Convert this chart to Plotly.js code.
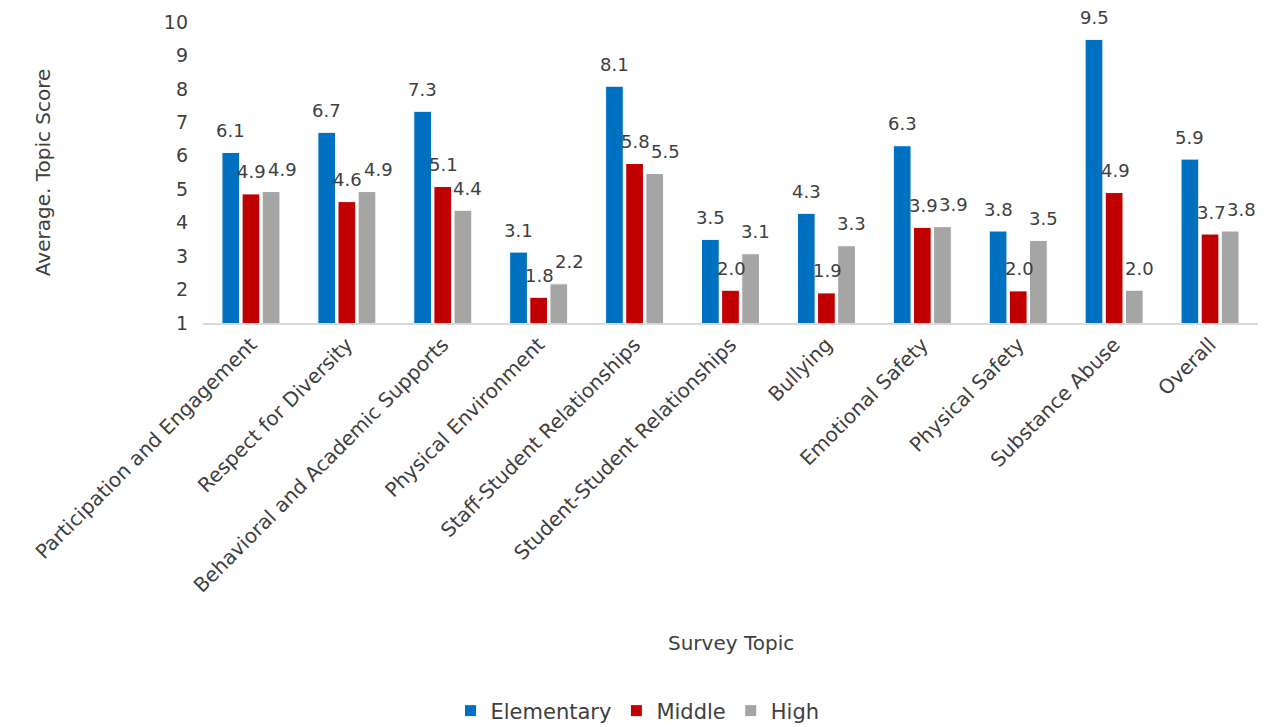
<!DOCTYPE html>
<html><head><meta charset="utf-8">
<script src="https://cdn.plot.ly/plotly-3.0.1.min.js"></script>
<style>html,body{margin:0;padding:0;background:#fff}#chart{width:1275px;height:727px}</style>
</head><body><div id="chart"></div>
<script>
const categories = ["Participation and Engagement","Respect for Diversity","Behavioral and Academic Supports","Physical Environment","Staff-Student Relationships","Student-Student Relationships","Bullying","Emotional Safety","Physical Safety","Substance Abuse","Overall"];
const elementary = [6.1, 6.7, 7.33, 3.12, 8.08, 3.5, 4.28, 6.3, 3.75, 9.48, 5.9];
const middle = [4.86, 4.63, 5.08, 1.77, 5.77, 1.98, 1.9, 3.86, 1.96, 4.9, 3.66];
const high = [4.93, 4.93, 4.37, 2.17, 5.47, 3.07, 3.31, 3.88, 3.47, 1.98, 3.75];
const seriesNames = ["Elementary","Middle","High"];
const yTicks = [1,2,3,4,5,6,7,8,9,10];

const colors = ["#0070C0","#C00000","#A5A5A5"];
const FONT = "DejaVu Sans, sans-serif";
const txtColor = "#404040";
const series = [elementary, middle, high];

const W = 1275, H = 727;
const margin = {l: 203, r: 17, t: 22, b: 404};
const yRange = [1, 10];
const bargap = 0.37, bargroupgap = 0.12;
const pxPerUnit = (H - margin.t - margin.b) / (yRange[1] - yRange[0]);
const slot = (1 - bargap) / series.length;

const traces = series.map((vals, i) => ({
  type: "bar",
  name: seriesNames[i],
  x: categories,
  y: vals,
  marker: {color: colors[i], line: {color: "#ffffff", width: 1}},
  hoverinfo: "x+y+name"
}));

// data labels as annotations above each bar (Excel "outside end" look)
const labelFont = {family: FONT, size: 18, color: txtColor};
const annotations = [];
series.forEach((vals, k) => {
  vals.forEach((v, i) => {
    let xs = 0;
    if (k === 1) xs = 1;
    if (k === 2) {
      const dy = Math.abs(v - middle[i]) * pxPerUnit;
      xs = dy < 16 ? 11 : 5;
    }
    annotations.push({
      xref: "x", yref: "y",
      x: i + (k - 1) * slot, y: v,
      text: v.toFixed(1), showarrow: false,
      xanchor: "center", yanchor: "middle",
      xshift: xs, yshift: 22,
      font: labelFont
    });
  });
});
annotations.push(
  {text: "Survey Topic", xref: "paper", yref: "paper", x: 0.5, y: -1.063,
   xanchor: "center", yanchor: "middle", showarrow: false,
   font: {family: FONT, size: 20, color: txtColor}},
  {text: "Average. Topic Score", xref: "paper", yref: "paper", x: -0.152, y: 0.5,
   xanchor: "center", yanchor: "middle", showarrow: false, textangle: -90,
   font: {family: FONT, size: 20, color: txtColor}}
);

const layout = {
  width: W, height: H,
  autosize: false,
  margin: Object.assign({autoexpand: false}, margin),
  paper_bgcolor: "#fff", plot_bgcolor: "#fff",
  barmode: "group",
  bargap: bargap,
  bargroupgap: bargroupgap,
  font: {family: FONT, color: txtColor, size: 18},
  xaxis: {
    type: "category",
    tickangle: -45,
    tickfont: {family: FONT, size: 20, color: txtColor},
    showline: true, linecolor: "#D9D9D9", linewidth: 2,
    ticks: "", showgrid: false, zeroline: false,
    automargin: false
  },
  yaxis: {
    range: yRange,
    tickvals: yTicks,
    tickfont: {family: FONT, size: 19, color: txtColor},
    showgrid: false, zeroline: false, showline: false,
    ticks: "", ticklen: 0, ticklabelstandoff: 14,
    automargin: false
  },
  showlegend: true,
  legend: {
    orientation: "h", x: 0.5, xanchor: "center", xref: "container",
    y: 0.022, yanchor: "middle", yref: "container",
    font: {family: FONT, size: 21, color: txtColor},
    traceorder: "normal"
  },
  annotations: annotations
};

Plotly.newPlot("chart", traces, layout, {displayModeBar: false, staticPlot: true});
</script>
</body></html>
